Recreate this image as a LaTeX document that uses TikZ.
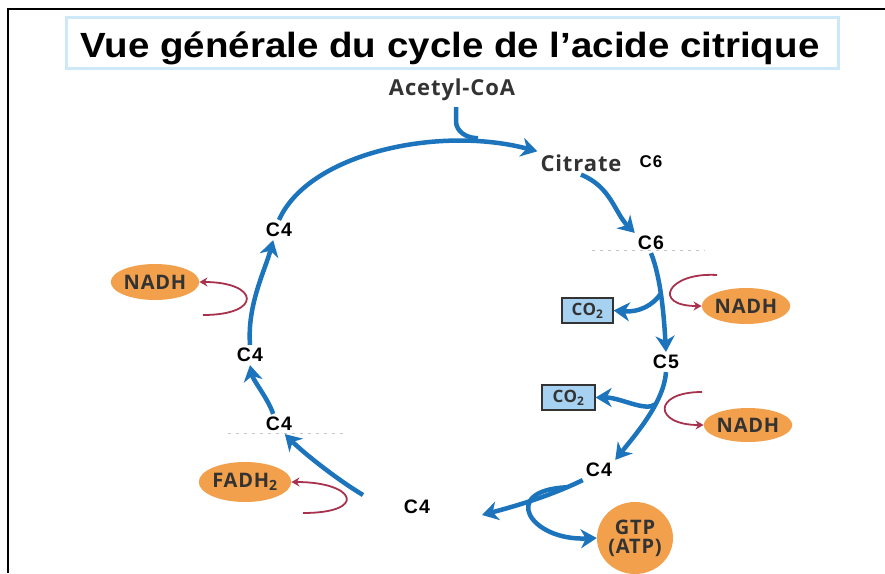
\documentclass[tikz,border=0pt]{standalone}
\usepackage{fontspec}
\setmainfont{Liberation Sans}
\newfontfamily\lblfont{Open Sans}[LetterSpace=4]
\newfontfamily\numfont{Liberation Sans}[LetterSpace=6]
\usetikzlibrary{shapes.geometric,arrows.meta}

\definecolor{cycblue}{HTML}{1C75BC}
\definecolor{redoxred}{HTML}{A8324E}
\definecolor{carrierorange}{HTML}{F2A04B}
\definecolor{inktext}{HTML}{333333}
\definecolor{gasfill}{HTML}{A7D1F0}
\definecolor{titleframe}{HTML}{CDE8F8}

\tikzset{
  cnum/.style={font=\numfont\bfseries\fontsize{19.5}{20}\selectfont, text=black, inner sep=3pt},
  mol/.style={font=\lblfont\bfseries\fontsize{22}{24}\selectfont, text=inktext, inner sep=3pt},
  carrier/.style={ellipse, fill=carrierorange, text=inktext, font=\lblfont\bfseries\fontsize{20}{20}\selectfont, inner sep=0pt, minimum width=86pt, minimum height=36pt},
  gas/.style={rectangle, draw=inktext, fill=gasfill, line width=1.2pt, text=inktext, font=\lblfont\bfseries\fontsize{17}{17}\selectfont, minimum width=51pt, minimum height=25pt, inner sep=0pt},
  cyc/.style={draw=cycblue, line width=4.5pt, -{Stealth[length=16pt, width=19pt, inset=5pt]}},
  redox/.style={draw=redoxred, line width=1.8pt, -{Stealth[length=8pt, width=9pt]}},
  guide/.style={draw=gray!45, line width=0.9pt, dash pattern=on 3pt off 5pt}
}

\begin{document}
\begin{tikzpicture}[x=1pt, y=-1pt]
  \useasboundingbox (0,0) rectangle (885,573);
  \fill[white] (0,0) rectangle (885,573);
  \draw[black, line width=1.6pt] (8,573) -- (8,9) -- (885,9);
  \draw[titleframe, line width=3pt] (66,17) rectangle (838,68);
  \node[font=\bfseries\fontsize{35}{35}\selectfont, anchor=base] (title) at (450,57) {\scalebox{1.1}[1]{Vue générale du cycle de l’acide citrique}};

  \node[mol] (acetyl) at (452,90) {Acetyl-CoA};
  \node[mol] (citrate) at (581,163) {Citrate};
  \node[font=\numfont\bfseries\fontsize{17}{17}\selectfont] (c6cit) at (651,162) {C6};

  \node[cnum] (c6a) at (651,243) {C6};
  \node[cnum] (c5) at (666,362) {C5};
  \node[cnum] (c4r) at (599,470) {C4};
  \node[cnum] (c4b) at (417,507) {C4};
  \node[cnum] (c4ll) at (279,424) {C4};
  \node[cnum] (c4ml) at (250,355) {C4};
  \node[cnum] (c4top) at (279,230) {C4};

  \node[gas] (co2a) at (587.5,310.5) {CO\textsubscript{2}};
  \node[gas, minimum width=53pt] (co2b) at (568.5,397.5) {CO\textsubscript{2}};

  \node[carrier] (nadh1) at (746,306) {NADH};
  \node[carrier, minimum height=34pt] (nadh2) at (748,425) {NADH};
  \node[carrier] (nadh3) at (155,282) {NADH};
  \node[carrier, minimum width=90pt, minimum height=40pt] (fadh) at (245,482) {FADH\textsubscript{2}};
  \node[carrier, minimum width=76pt, minimum height=72pt, align=center, font=\lblfont\bfseries\fontsize{20}{19}\selectfont] (gtp) at (635,538) {GTP\\(ATP)};

  \draw[guide] (592,250) -- (705,250);
  \draw[guide] (228,433) -- (345,433);

  \coordinate (c4bin) at (482,515);
  \coordinate (c4bout) at (363,495);
  \coordinate (r1s) at (717,275);
  \coordinate (r2s) at (702,392);
  \coordinate (r3s) at (203,315);
  \coordinate (r4s) at (303,513);

  \draw[cyc] (c4top.north) .. controls +(30,-67) and +(-98,-26) .. (citrate.north west);
  \draw[draw=cycblue, line width=4.5pt] ([xshift=4pt, yshift=-3pt]acetyl.south) -- ++(0,14) .. controls +(0,10) and +(-12,0) .. ++(22,17);
  \draw[cyc] (citrate.south) .. controls +(30,12) and +(-20,-20) .. (c6a.north west);
  \draw[cyc] (c6a.south) .. controls +(10,25) and +(-2,-35) .. (c5.north) coordinate[pos=0.45] (split1);
  \draw[cyc] (split1) .. controls +(-8,12) and +(25,2) .. (co2a.east);
  \draw[cyc] (c5.south) .. controls +(-2,30) and +(20,-25) .. (c4r.north east) coordinate[pos=0.35] (split2);
  \draw[cyc] (split2) .. controls +(-10,8) and +(25,0) .. (co2b.east);
  \draw[cyc] (c4r.south west) .. controls +(-35,17) and +(30,-8) .. (c4bin) coordinate[pos=0.15] (split3);
  \draw[cyc] (split3) .. controls +(-68,3) and +(-67,3) .. (gtp.west);
  \draw[cyc] (c4bout) .. controls +(-25,-15) and +(20,20) .. (c4ll.-60);
  \draw[cyc] (c4ll.120) .. controls +(-5,-15) and +(3,15) .. (c4ml.south);
  \draw[cyc] (c4ml.north) .. controls +(-3,-40) and +(-8,30) .. (c4top.-120);

  \draw[redox] (r1s) .. controls +(-50,-3) and +(-50,0) .. (nadh1.west);
  \draw[redox] (r2s) .. controls +(-50,0) and +(-50,0) .. (nadh2.west);
  \draw[redox] (r3s) .. controls +(60,0) and +(60,0) .. (nadh3.east);
  \draw[redox] (r4s) .. controls +(65,0) and +(65,0) .. (fadh.east);
\end{tikzpicture}
\end{document}
